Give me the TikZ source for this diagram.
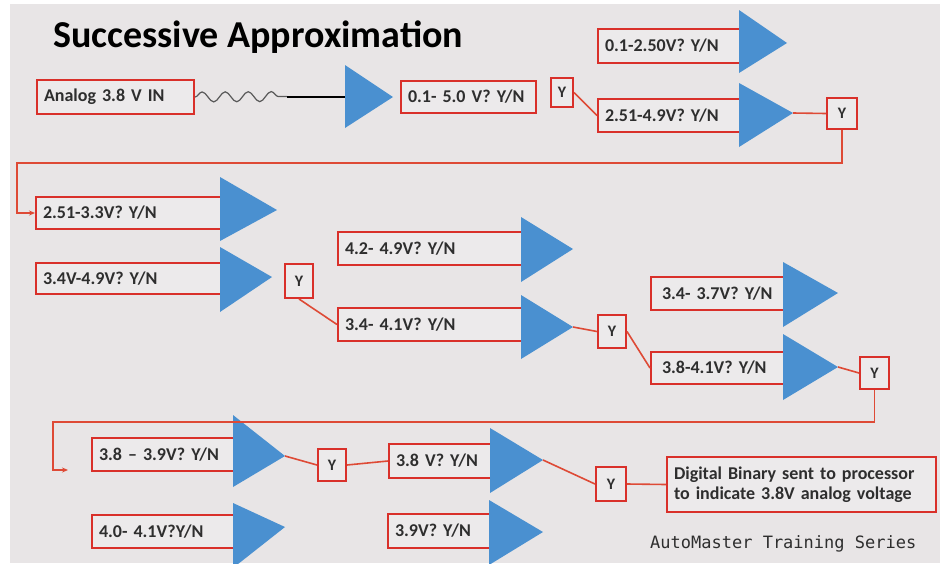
\documentclass[tikz,border=0pt]{standalone}
\usepackage{fontspec}
\setmainfont{Carlito}
\newfontfamily\amono{DejaVu Sans Mono}
\usetikzlibrary{decorations.pathmorphing,arrows.meta}
\definecolor{bgc}{HTML}{E8E5E6}
\definecolor{boxfill}{HTML}{ECEAEB}
\definecolor{bred}{HTML}{D9302A}
\definecolor{lred}{HTML}{DE4A36}
\definecolor{ampblue}{HTML}{4A90D0}
\definecolor{txt}{HTML}{2E2E2E}
\newcommand\amp[6]{\fill[ampblue] (#2,#3) -- (#5,#6) -- (#2,#4) -- cycle; \coordinate (#1) at (#5,#6);}
\tikzset{
  bx/.style 2 args={draw=bred, fill=boxfill, line width=2pt, inner xsep=7pt, inner ysep=0pt,
    text width=#1, minimum height=#2, align=left, anchor=north west, text=txt,
    font=\bfseries\fontsize{18}{20}\selectfont},
  ybx/.style 2 args={draw=bred, fill=boxfill, line width=2pt, inner sep=0pt,
    minimum width=#1, minimum height=#2, anchor=north west, text=txt,
    font=\bfseries\fontsize{16}{18}\selectfont},
  link/.style={draw=lred, line width=1.6pt},
  arr/.style={link, -{Stealth[length=6pt,width=5pt]}}
}
\begin{document}
\begin{tikzpicture}[x=1pt,y=-1pt]
\useasboundingbox (0,0) rectangle (940,563);
\clip (0,0) rectangle (940,563);
\fill[white] (0,0) rectangle (940,563);
\fill[bgc] (10,4) rectangle (940,563);

% title
\node[anchor=base west, inner sep=0pt, text=black, font=\bfseries\fontsize{38}{40}\selectfont] (title) at (53,47) {Successive Approximation};

% boxes
\node[bx={143pt}{34pt}] (A) at (36,79) {Analog 3.8 V IN};
\node[bx={121pt}{32pt}] (B) at (400,80) {0.1- 5.0 V? Y/N};
\node[bx={128pt}{34pt}] (C) at (597,28) {0.1-2.50V? Y/N};
\node[bx={128pt}{33pt}] (D) at (597,98) {2.51-4.9V? Y/N};
\node[bx={171pt}{32pt}] (E) at (35,196) {2.51-3.3V? Y/N};
\node[bx={171pt}{31pt}] (F) at (35,262) {3.4V-4.9V? Y/N};
\node[bx={170pt}{33pt}] (G) at (337,231) {4.2- 4.9V? Y/N};
\node[bx={170pt}{33pt}] (H) at (337,307) {3.4- 4.1V? Y/N};
\node[bx={111pt}{33pt}, inner xsep=11pt] (I) at (650,276) {3.4- 3.7V? Y/N};
\node[bx={111pt}{32pt}, inner xsep=11pt] (J) at (650,351) {3.8-4.1V? Y/N};
\node[bx={128pt}{33pt}] (K) at (91,437) {3.8 -- 3.9V? Y/N};
\node[bx={128pt}{33pt}] (L) at (91,514) {4.0- 4.1V?Y/N};
\node[bx={88pt}{34pt}] (M) at (388,443) {3.8 V? Y/N};
\node[bx={88pt}{34pt}] (N) at (387,513) {3.9V? Y/N};
\node[bx={255pt}{55pt}] (P) at (666,456) {Digital Binary sent to processor\\to indicate 3.8V analog voltage};

% Y boxes
\node[ybx={22pt}{29pt}] (Y1) at (550,77) {Y};
\node[ybx={30pt}{31pt}] (Y2) at (826,97) {Y};
\node[ybx={28pt}{34pt}] (Y3) at (284,263) {Y};
\node[ybx={28pt}{33pt}] (Y4) at (597,314) {Y};
\node[ybx={29pt}{32pt}] (Y5) at (859,356) {Y};
\node[ybx={28pt}{32pt}] (Y6) at (317,448) {Y};
\node[ybx={30pt}{34pt}] (Y7) at (595,466) {Y};

% amplifiers (triangles)
\amp{t1}{345}{65}{128}{393}{97}
\amp{t2}{739}{10}{73}{787}{43}
\amp{t3}{739}{83}{147}{793}{113}
\amp{t4}{220}{177}{241}{277}{210}
\amp{t5}{220}{247}{312}{272}{277}
\amp{t6}{521}{217}{282}{573}{249}
\amp{t7}{521}{295}{359}{573}{327}
\amp{t8}{783}{262}{327}{838}{293}
\amp{t9}{783}{334}{400}{838}{367}
\amp{t10}{233}{415}{487}{285}{456}
\amp{t11}{233}{503}{568}{285}{527}
\amp{t12}{490}{428}{493}{543}{460}
\amp{t13}{489}{500}{565}{543}{532}

% input signal
\coordinate (w) at (287,96.5);
\coordinate (i1) at (345,96.5);
\draw[gray!70!black, line width=1.2pt, decorate, decoration={snake, segment length=23pt, amplitude=5pt}] (A.east) -- (w);
\draw[black, line width=2pt] (w) -- (i1);

% connectors
\draw[link] (Y1.east) -- (D.west);
\draw[link] (t3) -- (Y2.west);
\draw[arr] (Y2.south) |- (17,163) |- (E.west);
\draw[link] (Y3.south) -- (H.west);
\draw[link] (t7) -- (Y4.west);
\draw[link] (Y4.east) -- (J.west);
\draw[link] (t9) -- (Y5.west);
\coordinate (e2) at (68,470);
\draw[arr] (Y5.south) |- (53,422) |- (e2);
\draw[link] (t10) -- (Y6.west);
\draw[link] (Y6.east) -- (M.west);
\draw[link] (t12) -- (Y7.west);
\draw[link] (Y7.east) -- (P.west);

% footer
\node[anchor=base west, inner sep=0pt, text=txt, font=\amono\fontsize{17}{17}\selectfont] (am) at (650,548) {AutoMaster Training Series};
\end{tikzpicture}
\end{document}
